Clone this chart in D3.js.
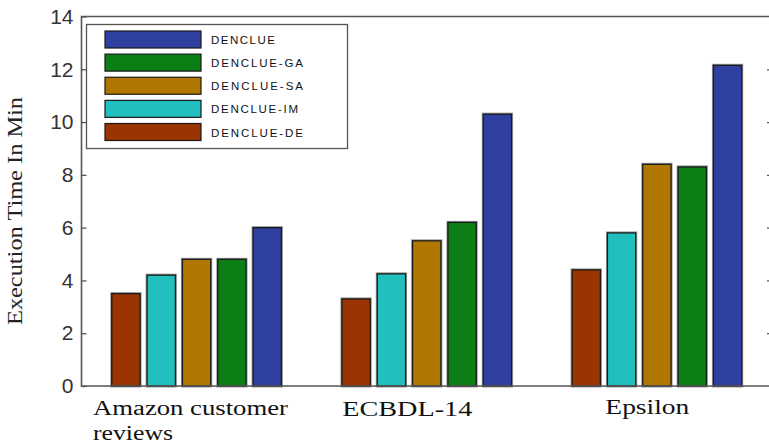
<!DOCTYPE html>
<html>
<head>
<meta charset="utf-8">
<script src="https://cdn.jsdelivr.net/npm/d3@7"></script>
<style>
  html, body { margin: 0; padding: 0; background: #fff; }
  svg { display: block; }
</style>
</head>
<body>
<svg id="chart" width="769" height="446"></svg>
<script>
// Datasets (groups along the x axis)
const datasets = ["Amazon customer reviews", "ECBDL-14", "Epsilon"];
// Bar order inside each group, left to right
const methods = ["DENCLUE-DE", "DENCLUE-IM", "DENCLUE-SA", "DENCLUE-GA", "DENCLUE"];
// Execution time in minutes, one array per method
const timeDE      = [3.5, 3.3, 4.4];
const timeIM      = [4.2, 4.25, 5.8];
const timeSA      = [4.8, 5.5, 8.4];
const timeGA      = [4.8, 6.2, 8.3];
const timeDENCLUE = [6.0, 10.3, 12.15];
// Legend order, top to bottom
const legendOrder = ["DENCLUE", "DENCLUE-GA", "DENCLUE-SA", "DENCLUE-IM", "DENCLUE-DE"];
const yTicks = [0, 2, 4, 6, 8, 10, 12, 14];

const series = {
  "DENCLUE-DE": timeDE,
  "DENCLUE-IM": timeIM,
  "DENCLUE-SA": timeSA,
  "DENCLUE-GA": timeGA,
  "DENCLUE": timeDENCLUE
};
const colors = {
  "DENCLUE": "#2f40a0",
  "DENCLUE-GA": "#0b7f15",
  "DENCLUE-SA": "#b07800",
  "DENCLUE-IM": "#21bfbd",
  "DENCLUE-DE": "#9a3400"
};

const svg = d3.select("#chart");
const plotLeft = 81.5, plotRight = 772, plotTop = 16.5, plotBottom = 386;

// Groups sit at 1, 2, 3 on a continuous axis
const x = d3.scaleLinear().domain([0.5, 3.5]).range([plotLeft, plotRight]);
const y = d3.scaleLinear().domain([0, 14]).range([plotBottom, plotTop]);
const barStep = 0.1535, barWidth = 0.123;

// Bars
const barData = [];
datasets.forEach((ds, gi) => {
  methods.forEach((m, mi) => {
    barData.push({ g: gi + 1, offset: (mi - 2) * barStep, m, v: series[m][gi] });
  });
});

const barsG = svg.append("g");
// soft grey halo around each bar
barsG.selectAll("rect.halo").data(barData).enter().append("rect")
  .attr("class", "halo")
  .attr("x", d => x(d.g + d.offset - barWidth / 2))
  .attr("y", d => y(d.v))
  .attr("width", d => x(barWidth) - x(0))
  .attr("height", d => y(0) - y(d.v))
  .attr("fill", "none")
  .attr("stroke", "#999")
  .attr("stroke-width", 3);
barsG.selectAll("rect.bar").data(barData).enter().append("rect")
  .attr("class", "bar")
  .attr("x", d => x(d.g + d.offset - barWidth / 2))
  .attr("y", d => y(d.v))
  .attr("width", d => x(barWidth) - x(0))
  .attr("height", d => y(0) - y(d.v))
  .attr("fill", d => colors[d.m])
  .attr("stroke", "#1a1a1a")
  .attr("stroke-width", 1.3);

// Frame
svg.append("path")
  .attr("d", `M${plotRight},${plotTop}H${plotLeft}V${plotBottom}H${plotRight}`)
  .attr("fill", "none")
  .attr("stroke", "#555")
  .attr("stroke-width", 1.6);

// Left axis: ticks point inward
const yAxisL = d3.axisLeft(y).tickValues(yTicks).tickSizeInner(-5).tickSizeOuter(0).tickPadding(10);
const gL = svg.append("g").attr("transform", `translate(${plotLeft},0)`).call(yAxisL);
gL.select(".domain").remove();
gL.selectAll(".tick line").attr("stroke", "#555").attr("stroke-width", 1.3);
gL.selectAll(".tick text")
  .attr("x", -8)
  .attr("font-family", "Liberation Sans, Arial, sans-serif")
  .attr("font-size", 21)
  .attr("fill", "#333");

// Right axis: inward ticks only
const yAxisR = d3.axisRight(y).tickValues(yTicks.filter(t => t > 0 && t < 14)).tickSizeInner(-5).tickSizeOuter(0).tickFormat("");
const gR = svg.append("g").attr("transform", `translate(${plotRight},0)`).call(yAxisR);
gR.select(".domain").remove();
gR.selectAll(".tick line").attr("stroke", "#555").attr("stroke-width", 1.3);

// Y label
svg.append("text")
  .attr("transform", `translate(22,211) rotate(-90)`)
  .attr("text-anchor", "middle")
  .attr("font-family", "Liberation Serif, Times New Roman, serif")
  .attr("font-size", 22)
  .attr("textLength", 228)
  .attr("lengthAdjust", "spacingAndGlyphs")
  .attr("fill", "#222")
  .text("Execution Time In Min");

// Category labels (wide serif), left-aligned below each group
const labelAnchor = [0.55, 1.633, 2.776];
const labelLines = [["Amazon customer", "reviews"], ["ECBDL-14"], ["Epsilon"]];
const labelWidths = [[195, 80], [130], [84]];
const labelBase = [415, 416, 413.5];
labelLines.forEach((lines, i) => {
  lines.forEach((ln, k) => {
    svg.append("text")
      .attr("x", x(labelAnchor[i]))
      .attr("y", labelBase[i] + k * 25)
      .attr("font-family", "Liberation Serif, Times New Roman, serif")
      .attr("font-size", 20)
      .attr("textLength", labelWidths[i][k])
      .attr("lengthAdjust", "spacingAndGlyphs")
      .attr("fill", "#111")
      .text(ln);
  });
});

// Legend
const legendWidths = { "DENCLUE": 64, "DENCLUE-GA": 92, "DENCLUE-SA": 92, "DENCLUE-IM": 87, "DENCLUE-DE": 92 };
const lg = svg.append("g");
lg.append("rect")
  .attr("x", 86.5).attr("y", 24.5).attr("width", 261).attr("height", 124)
  .attr("fill", "#fff").attr("stroke", "#555").attr("stroke-width", 1.3);
const rowY = d3.scaleLinear().domain([0, 4]).range([31, 123.5]);
legendOrder.forEach((m, i) => {
  lg.append("rect")
    .attr("x", 105).attr("y", rowY(i)).attr("width", 96).attr("height", 17)
    .attr("fill", colors[m]).attr("stroke", "#1a1a1a").attr("stroke-width", 1.2);
  lg.append("text")
    .attr("x", 211).attr("y", rowY(i) + 13)
    .attr("font-family", "Liberation Sans, Arial, sans-serif")
    .attr("font-size", 11.5)
    .attr("textLength", legendWidths[m])
    .attr("lengthAdjust", "spacing")
    .attr("fill", "#111")
    .text(m);
});
</script>
</body>
</html>
